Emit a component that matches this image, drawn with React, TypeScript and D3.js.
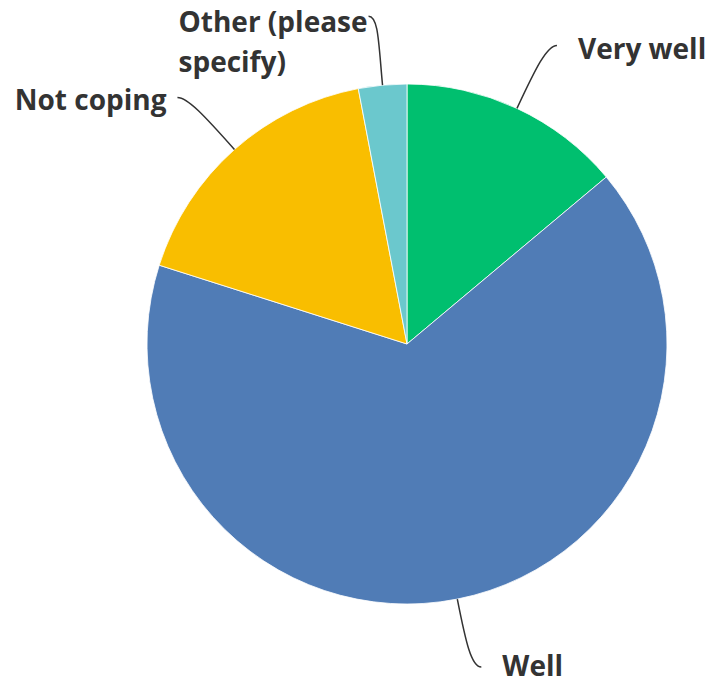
import React, { useEffect, useRef } from 'react';
import * as d3 from 'd3';

const categories = ['Very well', 'Well', 'Not coping', 'Other (please specify)'];
const values = [13.9, 66.0, 17.1, 3.0];
const colors = ['#00BF6F', '#507CB6', '#F9BE00', '#6BC8CD'];
// label text split in lines
const labelLines = [['Very well'], ['Well'], ['Not coping'], ['Other (please', 'specify)']];

// leader line end relative to the slice anchor, and which way the label sits
const leaders = [
  { dx: 40, dy: -63, side: 1, tx: 21, ty: 14 },
  { dx: 24, dy: 68, side: 1, tx: 21, ty: 9 },
  { dx: -57, dy: -52, side: -1, tx: -11, ty: 12 },
  { dx: -14, dy: -69, side: -1, tx: -1, ty: 16 },
];

const W = 708;
const H = 686;

const App: React.FC = () => {
  const svgRef = useRef<SVGSVGElement>(null);

  useEffect(() => {
    if (!svgRef.current) return;
    const svg = d3.select(svgRef.current);
    svg.selectAll('*').remove();

    const cx = 407;
    const cy = 344;
    const r = 260;

    const data = categories.map((c, i) => ({ name: c, value: values[i], i }));
    const pie = d3.pie<any>().sort(null).value((d: any) => d.value);
    const arcs = pie(data);
    const arc = d3.arc<any>().innerRadius(0).outerRadius(r);

    const g = svg.append('g').attr('transform', `translate(${cx},${cy})`);

    g.selectAll('path.slice')
      .data(arcs)
      .join('path')
      .attr('class', 'slice')
      .attr('d', arc as any)
      .attr('fill', (d: any) => colors[d.data.i])
      .attr('stroke', '#fff')
      .attr('stroke-width', 0.8);

    arcs.forEach((a: any) => {
      const i = a.data.i;
      const mid = (a.startAngle + a.endAngle) / 2;
      const ux = Math.sin(mid);
      const uy = -Math.cos(mid);
      const x0 = ux * r;
      const y0 = uy * r;
      const L = leaders[i];
      const x1 = x0 + L.dx;
      const y1 = y0 + L.dy;
      const dist = Math.hypot(L.dx, L.dy);
      const p = d3.path();
      p.moveTo(x0, y0);
      p.bezierCurveTo(x0 + ux * dist * 0.6, y0 + uy * dist * 0.6, x1 - L.side * 10, y1, x1, y1);
      g.append('path')
        .attr('d', p.toString())
        .attr('fill', 'none')
        .attr('stroke', '#333')
        .attr('stroke-width', 1.5);

      const t = g.append('text')
        .attr('font-family', '"Open Sans", sans-serif')
        .attr('font-weight', 700)
        .attr('font-size', 28)
        .attr('fill', '#333');
      const lines = labelLines[i];
      const spans = lines.map((ln, k) =>
        t.append('tspan')
          .attr('x', 0)
          .attr('y', y1 + L.ty + k * 40)
          .text(ln)
      );
      // block aligned on its first line, lines left-aligned inside it
      const w0 = (spans[0].node() as SVGTSpanElement).getComputedTextLength();
      const left = L.side > 0 ? x1 + L.tx : x1 + L.tx - w0;
      spans.forEach((s) => s.attr('x', left));
    });
  }, []);

  return (
    <svg
      ref={svgRef}
      width={W}
      height={H}
      style={{ position: 'absolute', left: 0, top: 0, background: '#fff' }}
    />
  );
};

export default App;
